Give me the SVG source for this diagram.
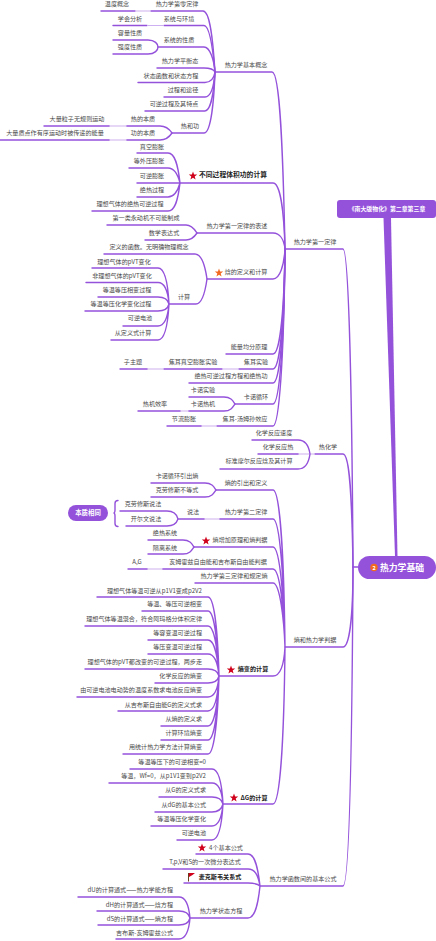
<svg xmlns="http://www.w3.org/2000/svg" width="436" height="941" viewBox="0 0 436 941">
<style>
text{font-family:"Noto Sans CJK SC","Liberation Sans",sans-serif;font-size:6.1px;fill:#4a4a4a;text-anchor:middle}
.e{text-anchor:end}
.b{font-weight:700;fill:#222}
.w{fill:#fff;font-weight:700}
#links path{fill:none;stroke:#9452DB;stroke-width:1.4;stroke-linecap:round}
#links path.p{stroke:#CDB0EF;stroke-width:1.1;stroke-linecap:butt}
</style>
<defs><polygon id="star" points="0,-4.4 1.1,-1.4 4.2,-1.4 1.7,.5 2.6,3.6 0,1.7 -2.6,3.6 -1.7,.5 -4.2,-1.4 -1.1,-1.4"/></defs>
<rect width="436" height="941" fill="#fff"/>
<g id="links">
<polygon points="383.5,218 391,218 397.5,556 395,556" fill="#9452DB"/>
<path d="M353 567H358"/>
<path d="M285 249H343C349 249 352 400 353 567"/>
<path d="M315 454H343C350 454 352 500 353 567"/>
<path d="M285 647H343C349 647 353 620 353 567"/>
<path d="M260 886H343C349 886 352 760 353 567"/>
<path d="M215 72H272C280 72 283 150 285 249"/>
<path d="M180 183H273C280 183 284 210 285 249"/>
<path d="M197 233H273C280 233 284 240 285 249"/>
<path d="M207 279H273C280 279 284 265 285 249"/>
<path d="M226 354H273C279 354 284 320 285 249"/>
<path d="M164 369H222M239 369H273C279 369 284 330 285 249"/>
<path d="M189 383H273C279 383 284 340 285 249"/>
<path d="M235 404H273C279 404 284 350 285 249"/>
<path d="M217 426H273C279 426 284 360 285 249"/>
<path d="M101 11H135M151 11H203C210 11 213 40 215 72"/>
<path d="M113 25.5H147M164 25.5H204C210 25.5 213 50 215 72"/>
<path d="M158 47H204C210 47 214 60 215 72"/>
<path d="M157 68H204C210 68 214 70 215 72"/>
<path d="M138 82.5H205C211 82.5 214 78 215 72"/>
<path d="M164 97H205C211 97 214 85 215 72"/>
<path d="M145 111H205C211 111 214 90 215 72"/>
<path d="M172 133H204C211 133 214 100 215 72"/>
<path class="p" d="M135 11H151M147 25.5H164M109 126H127M109 140H127M147 369H164M222 369H239M180 411H189M201 426H217M298 454H315M204 519H220M147 569H163"/>
<path d="M113 40H148C155 40 158 44 158 47C158 50 155 54 148 54H113"/>
<path d="M44 126H109M127 126H160C167 126 170 130 172 133C170 136 167 140 160 140H127M109 140H0"/>
<path d="M137 153H168C175 153 178 165 180 183M129 168H168C175 168 178 175 180 183M137 183H180M137 197H168C175 197 178 190 180 183M92 211H168C175 211 178 200 180 183"/>
<path d="M107 225H186C192 225 195 230 197 233C195 236 192 240 186 240H145"/>
<path d="M104 254H195C202 254 205 265 207 279C205 293 202 304 196 304H169"/>
<path d="M92 268H158C165 268 168 285 169 304M86 282.5H158C165 282.5 168 292 169 304M98 297H158C165 297 168 300 169 304M85 311H158C165 311 168 308 169 304M123 326H158C165 326 168 315 169 304M111 340H158C165 340 168 322 169 304"/>
<path d="M120 369H147"/>
<path d="M189 397H224C231 397 233 401 235 404C233 407 231 411 224 411H189M180 411H138"/>
<path d="M167 426H201"/>
<path d="M252 440H298C306 440 309 447 310 454C309 461 306 469 298 469H220M258 454H298"/>
<path d="M216 490H273C280 490 284 560 285 647M220 519H273C280 519 284 580 285 647M194 547H273C280 547 284 600 285 647M163 569H273C280 569 284 610 285 647M195 583H273C280 583 284 620 285 647M219 676H273C280 676 284 665 285 647M223 804H273C280 804 284 740 285 647"/>
<path d="M151 483H205C212 483 214 487 216 490C214 493 212 497 205 497H151"/>
<path d="M120 511H167C174 511 177 515 178 519C177 522 174 526 167 526H126M178 519H204"/>
<path d="M148 540H183C190 540 192 544 194 547C192 550 190 554 183 554H148"/>
<path d="M128 569H147"/>
<path d="M97 597H208C215 597 218 640 219 676M142 611H208C215 611 218 650 219 676M85 626H208C215 626 218 655 219 676M148 640H208C215 640 218 660 219 676M148 654H208C215 654 218 665 219 676M85 669H208C215 669 218 672 219 676M155 683H208C215 683 218 680 219 676M77 697H208C215 697 218 688 219 676M118 711H208C215 711 218 695 219 676M161 726H208C215 726 218 700 219 676M161 740H208C215 740 218 705 219 676M123 754H208C215 754 218 710 219 676"/>
<path d="M130 769H212C219 769 222 785 223 804M109 783H212C219 783 222 792 223 804M159 797H212C219 797 222 800 223 804M155 812H212C219 812 222 808 223 804M151 826H212C219 826 222 815 223 804M177 840H212C219 840 222 822 223 804"/>
<path d="M196 854H248C255 854 258 868 260 886M163 869H248C255 869 258 875 260 886M184 883H248C255 883 258 884 260 886M190 918H248C255 918 258 905 260 886"/>
<path d="M78 897H179C186 897 189 907 190 918M97 911H179C186 911 189 914 190 918M98 925H179C186 925 189 922 190 918M116 939H179C186 939 189 930 190 918"/>
<path d="M118 500.5Q115 500.5 115 503.5V510Q115 513 113.5 513Q115 513 115 516V523.5Q115 526.5 118 526.5"/>
</g>
<g id="root"><rect x="358" y="556" width="78" height="23" rx="11.5" fill="#9452DB"/><circle cx="374" cy="567.5" r="3.7" fill="#F26A21"/><text x="374" y="569.5" class="w" style="font-size:5.5px">2</text><text x="402" y="570.5" class="w" style="font-size:8.8px">热力学基础</text></g>
<g id="topic-box"><rect x="337" y="200" width="99" height="18" rx="3" fill="#9452DB"/><text x="387" y="210.8" class="w" style="font-size:5.9px">《南大版物化》第二章第三章</text></g>
<g id="note"><rect x="68" y="505" width="40" height="16" rx="8" fill="#9452DB"/><text x="88" y="515.2" class="w" style="font-size:6.4px">本质相同</text></g>
<g id="h1"><text x="315" y="244.2">热力学第一定律</text></g>
<g id="h2"><text x="246" y="67.2">热力学基本概念</text></g>
<g id="h3"><text x="328" y="449.2">热化学</text></g>
<g id="h4"><text x="315" y="642.2">熵和热力学判据</text></g>
<g id="h5"><text x="303" y="881.2">热力学函数间的基本公式</text></g>
<g id="a1"><text x="177" y="6.2">热力学第零定律</text></g>
<g id="a1a"><text x="117" y="6.2">温度概念</text></g>
<g id="a2"><text x="179" y="21.2">系统与环境</text></g>
<g id="a2a"><text x="130" y="21.2">学会分析</text></g>
<g id="a3"><text x="179" y="42.2">系统的性质</text></g>
<g id="a3a"><text x="130" y="35.2">容量性质</text></g>
<g id="a3b"><text x="130" y="49.2">强度性质</text></g>
<g id="a4"><text x="180" y="63.2">热力学平衡态</text></g>
<g id="a5"><text x="171" y="78.2">状态函数和状态方程</text></g>
<g id="a6"><text x="183" y="92.2">过程和途径</text></g>
<g id="a7"><text x="174" y="106.2">可逆过程及其特点</text></g>
<g id="a8"><text x="190" y="128.2">热和功</text></g>
<g id="a8a"><text x="143" y="120.7">热的本质</text></g>
<g id="a8a1"><text x="77" y="120.7">大量粒子无规则运动</text></g>
<g id="a8b"><text x="143" y="135.2">功的本质</text></g>
<g id="a8b1"><text x="55" y="135.2">大量质点作有序运动时被传递的能量</text></g>
<g id="b1"><use href="#star" x="193" y="176" fill="#D0021B"/><text x="233" y="177.4" class="b" style="font-size:6.8px">不同过程体积功的计算</text></g>
<g id="b1a"><text x="152" y="149.2">真空膨胀</text></g>
<g id="b1b"><text x="149" y="163.2">等外压膨胀</text></g>
<g id="b1c"><text x="152" y="178.2">可逆膨胀</text></g>
<g id="b1d"><text x="152" y="192.2">绝热过程</text></g>
<g id="b1e"><text x="130" y="206.2">理想气体的绝热可逆过程</text></g>
<g id="b2"><text x="237" y="228.2">热力学第一定律的表述</text></g>
<g id="b2a"><text x="146" y="220.2">第一类永动机不可能制成</text></g>
<g id="b2b"><text x="164" y="235.2">数学表达式</text></g>
<g id="b3"><use href="#star" x="219" y="273" fill="#F26A21"/><text x="246" y="274.2">焓的定义和计算</text></g>
<g id="b3a"><text x="149" y="249.2">定义的函数。无明确物理概念</text></g>
<g id="b3b"><text x="184" y="299.2">计算</text></g>
<g id="c1"><text x="124" y="264.2">理想气体的pVT变化</text></g>
<g id="c2"><text x="122" y="278.2">非理想气体的pVT变化</text></g>
<g id="c3"><text x="127" y="292.2">等温等压相变过程</text></g>
<g id="c4"><text x="121" y="306.2">等温等压化学变化过程</text></g>
<g id="c5"><text x="140" y="320.2">可逆电池</text></g>
<g id="c6"><text x="133" y="335.2">从定义式计算</text></g>
<g id="b4"><text x="249" y="349.2">能量均分原理</text></g>
<g id="b5"><text x="256" y="364.2">焦耳实验</text></g>
<g id="b5a"><text x="193" y="364.2">焦耳真空膨胀实验</text></g>
<g id="b5b"><text x="133" y="364.2">子主题</text></g>
<g id="b6"><text x="231" y="378.2">绝热可逆过程方程和绝热功</text></g>
<g id="b7"><text x="256" y="399.2">卡诺循环</text></g>
<g id="b7a"><text x="203" y="392.2">卡诺实验</text></g>
<g id="b7b"><text x="203" y="406.2">卡诺热机</text></g>
<g id="b7c"><text x="155" y="406.2">热机效率</text></g>
<g id="b8"><text x="245" y="421.2">焦耳-汤姆孙效应</text></g>
<g id="b8a"><text x="184" y="421.2">节流膨胀</text></g>
<g id="d1"><text x="274" y="435.2">化学反应速度</text></g>
<g id="d2"><text x="278" y="449.2">化学反应热</text></g>
<g id="d3"><text x="259" y="463.2">标准摩尔反应焓及其计算</text></g>
<g id="e1"><text x="246" y="485.2">熵的引出和定义</text></g>
<g id="e1a"><text x="177" y="478.2">卡诺循环引出熵</text></g>
<g id="e1b"><text x="177" y="492.2">克劳修斯不等式</text></g>
<g id="e2"><text x="246" y="514.2">热力学第二定律</text></g>
<g id="e2a"><text x="193" y="514.2">说法</text></g>
<g id="e2b"><text x="143" y="506.2">克劳修斯说法</text></g>
<g id="e2c"><text x="146" y="521.2">开尔文说法</text></g>
<g id="e3"><use href="#star" x="206" y="541" fill="#D0021B"/><text x="240" y="542.2">熵增加原理和熵判据</text></g>
<g id="e3a"><text x="165" y="535.2">绝热系统</text></g>
<g id="e3b"><text x="165" y="550.2">隔离系统</text></g>
<g id="e4"><text x="218" y="564.2">亥姆霍兹自由能和吉布斯自由能判据</text></g>
<g id="e4a"><text x="137" y="564.2">A,G</text></g>
<g id="e5"><text x="234" y="578.2">热力学第三定律和规定熵</text></g>
<g id="f"><use href="#star" x="231" y="670" fill="#D0021B"/><text x="253" y="671.2" class="b">熵变的计算</text></g>
<g id="f1"><text x="202" y="593.2" class="e">理想气体等温可逆从p1V1变成p2V2</text></g>
<g id="f2"><text x="202" y="606.2" class="e">等温、等压可逆相变</text></g>
<g id="f3"><text x="202" y="621.2" class="e">理想气体等温混合，符合阿玛格分体积定律</text></g>
<g id="f4"><text x="202" y="635.2" class="e">等容变温可逆过程</text></g>
<g id="f5"><text x="202" y="649.2" class="e">等压变温可逆过程</text></g>
<g id="f6"><text x="202" y="664.2" class="e">理想气体的pVT都改变的可逆过程，两步走</text></g>
<g id="f7"><text x="202" y="678.2" class="e">化学反应的熵变</text></g>
<g id="f8"><text x="202" y="692.2" class="e">由可逆电池电动势的温度系数求电池反应熵变</text></g>
<g id="f9"><text x="202" y="707.2" class="e">从吉布斯自由能G的定义式求</text></g>
<g id="f10"><text x="202" y="721.2" class="e">从熵的定义求</text></g>
<g id="f11"><text x="202" y="735.2" class="e">计算环境熵变</text></g>
<g id="f12"><text x="202" y="749.2" class="e">用统计热力学方法计算熵变</text></g>
<g id="g"><use href="#star" x="234" y="798" fill="#D0021B"/><text x="254" y="800.2" class="b">ΔG的计算</text></g>
<g id="g1"><text x="206" y="764.2" class="e">等温等压下的可逆相变=0</text></g>
<g id="g2"><text x="206" y="778.2" class="e">等温，Wf=0，从p1V1变到p2V2</text></g>
<g id="g3"><text x="206" y="792.2" class="e">从G的定义式求</text></g>
<g id="g4"><text x="206" y="807.2" class="e">从dG的基本公式</text></g>
<g id="g5"><text x="206" y="821.2" class="e">等温等压化学变化</text></g>
<g id="g6"><text x="206" y="835.2" class="e">可逆电池</text></g>
<g id="i1"><use href="#star" x="202" y="848" fill="#D0021B"/><text x="226" y="850.2">4个基本公式</text></g>
<g id="i2"><text x="205" y="864.2">T,p,V和S的一次微分表达式</text></g>
<g id="i3"><path d="M188.5 881.5V873" stroke="#6b3f1d" stroke-width="1" fill="none"/><path d="M189 873H195L192.5 875L189 877Z" fill="#D0021B"/><text x="220" y="879.2" class="b">麦克斯韦关系式</text></g>
<g id="i4"><text x="221" y="913.2">热力学状态方程</text></g>
<g id="j1"><text x="173" y="892.2" class="e">dU的计算通式——热力学能方程</text></g>
<g id="j2"><text x="173" y="907.2" class="e">dH的计算通式——焓方程</text></g>
<g id="j3"><text x="173" y="921.2" class="e">dS的计算通式——熵方程</text></g>
<g id="j4"><text x="173" y="935.2" class="e">吉布斯-亥姆霍兹公式</text></g>
</svg>
